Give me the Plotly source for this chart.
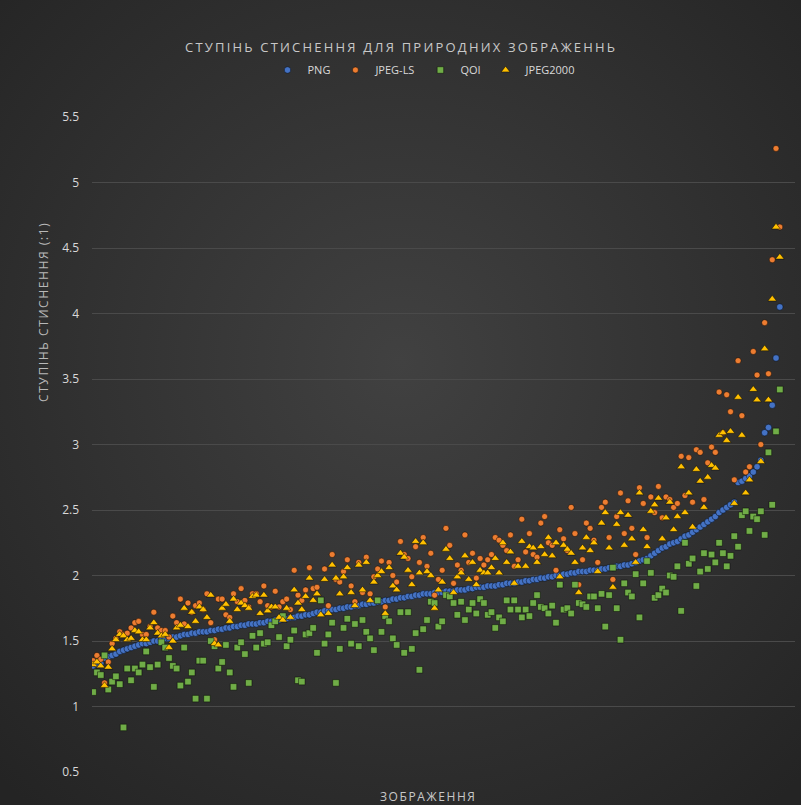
import base64
import plotly.graph_objects as go

# ---------------- data ----------------
png = [
    1.31, 1.32, 1.33, 1.37, 1.38, 1.39, 1.40, 1.42, 1.43, 1.44,
    1.45, 1.46, 1.47, 1.48, 1.48, 1.49, 1.50, 1.50, 1.51, 1.52,
    1.52, 1.53, 1.53, 1.54, 1.55, 1.55, 1.56, 1.56, 1.57, 1.57,
    1.57, 1.58, 1.58, 1.59, 1.59, 1.60, 1.60, 1.61, 1.61, 1.62,
    1.62, 1.63, 1.63, 1.63, 1.64, 1.64, 1.65, 1.65, 1.66, 1.66,
    1.67, 1.67, 1.68, 1.68, 1.69, 1.69, 1.70, 1.70, 1.71, 1.72,
    1.72, 1.73, 1.73, 1.74, 1.74, 1.75, 1.75, 1.76, 1.76, 1.77,
    1.77, 1.78, 1.78, 1.79, 1.79, 1.80, 1.80, 1.81, 1.81, 1.82,
    1.82, 1.83, 1.83, 1.84, 1.84, 1.85, 1.85, 1.86, 1.86, 1.86,
    1.87, 1.87, 1.87, 1.88, 1.88, 1.88, 1.89, 1.89, 1.89, 1.90,
    1.90, 1.91, 1.91, 1.91, 1.92, 1.92, 1.92, 1.93, 1.93, 1.94,
    1.94, 1.94, 1.95, 1.95, 1.96, 1.96, 1.97, 1.97, 1.98, 1.98,
    1.99, 1.99, 2.00, 2.00, 2.01, 2.01, 2.02, 2.02, 2.03, 2.03,
    2.03, 2.04, 2.04, 2.04, 2.05, 2.05, 2.06, 2.06, 2.07, 2.07,
    2.08, 2.08, 2.09, 2.10, 2.11, 2.12, 2.13, 2.15, 2.17, 2.19,
    2.21, 2.22, 2.24, 2.25, 2.26, 2.28, 2.30, 2.31, 2.33, 2.35,
    2.37, 2.39, 2.41, 2.43, 2.45, 2.48, 2.50, 2.52, 2.54, 2.56,
    2.71, 2.72, 2.74, 2.76, 2.79, 2.83, 2.88, 3.09, 3.13, 3.30,
    3.66, 4.05,
]

jpeg_ls = [
    1.35, 1.39, 1.36, 1.18, 1.34, 1.48, 1.52, 1.57, 1.55, 1.56,
    1.60, 1.64, 1.65, 1.55, 1.55, 1.61, 1.72, 1.60, 1.58, 1.58,
    1.53, 1.69, 1.64, 1.82, 1.63, 1.79, 1.72, 1.77, 1.79, 1.74,
    1.86, 1.64, 1.51, 1.82, 1.82, 1.70, 1.68, 1.86,
    1.80, 1.90, 1.81, 1.76, 1.86, 1.86, 1.80, 1.92, 1.77, 1.76,
    1.88, 1.76, 1.80, 1.82, 1.74, 2.04, 1.85, 1.81, 1.89, 2.06,
    1.90, 1.91, 1.81, 2.05, 1.77, 2.16, 1.97, 1.95, 2.03, 2.12,
    1.92, 1.80, 2.10, 1.87, 2.14, 1.86, 1.99, 2.05, 2.11, 1.76,
    2.10, 2.00, 1.95, 2.26, 2.16, 2.13,
    1.99, 2.22, 2.10, 2.29, 2.07, 2.17, 1.85, 1.97, 2.04, 2.36,
    2.23, 1.94, 2.08, 2.04, 2.31, 2.10, 2.17, 1.98, 2.13, 2.08,
    2.12, 2.16, 2.29, 2.27, 2.23, 2.19, 2.31, 2.07, 2.12, 2.43,
    2.18, 2.32, 2.16, 2.14, 2.40, 2.45, 2.25, 2.23, 2.04, 2.35,
    2.28, 2.19, 2.52, 2.32,
    1.93, 2.12, 2.40, 2.36, 2.27, 2.10, 2.52, 2.56, 2.29, 1.97,
    2.45, 2.63, 2.32, 2.57, 2.36, 2.16, 2.67, 2.55, 2.29, 2.60,
    2.48, 2.68, 2.44, 2.60, 2.58, 2.52, 2.55, 2.91, 2.61, 2.90,
    2.56, 2.96, 2.94, 2.58, 2.86, 2.98, 2.94, 3.40, 3.09, 3.38,
    3.25, 2.73, 3.64, 3.22, 2.79, 2.83, 3.71, 3.53, 3.00, 3.93,
    3.54, 4.41, 5.26, 4.66,
]

qoi = [
    1.11, 1.26, 1.24, 1.39, 1.13, 1.19, 1.23, 1.17, 0.84, 1.29,
    1.20, 1.29, 1.26, 1.32, 1.42, 1.30, 1.15, 1.32, 1.49, 1.45,
    1.37, 1.31, 1.29, 1.16, 1.45, 1.19, 1.26, 1.06, 1.35, 1.35,
    1.06, 1.50, 1.46, 1.29, 1.34, 1.47, 1.26,
    1.15, 1.45, 1.49, 1.40, 1.18, 1.54, 1.45, 1.56, 1.48, 1.49,
    1.62, 1.65, 1.53, 1.69, 1.46, 1.51, 1.58, 1.20, 1.19, 1.55,
    1.56, 1.60, 1.41, 1.81, 1.48, 1.55, 1.64, 1.18, 1.44, 1.60,
    1.67, 1.48, 1.63, 1.46, 1.66, 1.57, 1.52, 1.43, 1.81, 1.57,
    1.69, 1.65, 1.52, 1.47, 1.72, 1.41,
    1.72, 1.44, 1.56, 1.28, 1.59, 1.66, 1.80, 1.79, 1.61, 1.65,
    1.85, 1.84, 1.79, 1.70, 1.80, 1.66, 1.74, 1.79, 1.71, 1.82,
    1.79, 1.70, 1.72, 1.60, 1.68, 1.65, 1.81, 1.74, 1.81, 1.74,
    1.68, 1.74, 1.69, 1.79, 1.85, 1.76, 1.75, 1.71, 1.77, 1.64,
    1.93, 1.74, 1.75, 1.71, 1.93, 1.79,
    1.78, 1.76, 1.84, 1.84, 1.75, 1.86, 1.61, 1.85, 2.06, 1.75,
    1.51, 1.94, 1.87, 1.84, 2.01, 1.68, 1.94, 2.11, 2.02, 1.83,
    1.85, 1.90, 1.87, 2.00, 1.99, 2.07, 1.73, 2.25, 2.09, 2.13,
    1.92, 2.03, 2.17, 2.05, 2.16, 2.10, 2.25, 2.17, 2.07, 2.15,
    2.30, 2.22, 2.46, 2.49, 2.34, 2.45, 2.43, 2.49, 2.31, 2.94,
    2.54, 3.10, 3.42,
]

jpeg2000 = [
    1.32, 1.34, 1.31, 1.16, 1.30, 1.44, 1.51, 1.55, 1.54, 1.51,
    1.52, 1.58, 1.57, 1.51, 1.51, 1.60, 1.64, 1.56, 1.54, 1.55,
    1.45, 1.50, 1.60, 1.62, 1.75, 1.61, 1.72, 1.65, 1.76, 1.74,
    1.68, 1.85, 1.48, 1.47, 1.75, 1.78, 1.65, 1.82,
    1.74, 1.79, 1.77, 1.75, 1.84, 1.85, 1.71, 1.85, 1.73, 1.76,
    1.76, 1.68, 1.66, 1.75, 1.68, 1.89, 1.79, 1.74, 1.84, 1.98,
    1.81, 1.86, 1.70, 1.97, 1.71, 2.08, 1.98, 1.86, 1.99, 2.06,
    1.87, 1.77, 2.08, 1.89, 2.10, 1.81, 1.95, 2.00, 2.03, 1.71,
    2.06, 1.92, 1.89, 2.17, 2.14, 2.04,
    1.93, 2.26, 2.02, 2.25, 2.03, 2.00, 1.75, 1.89, 1.95, 2.20,
    2.13, 1.87, 1.99, 2.02, 2.15, 1.97, 2.10, 1.93, 2.04, 2.02,
    2.02, 2.06, 2.13, 2.02, 2.25, 2.10, 2.18, 1.94, 2.07, 2.26,
    2.07, 2.22, 2.21, 2.10, 2.22, 2.16, 2.29, 2.15, 2.25, 1.99,
    2.23, 2.20, 2.17, 2.10,
    1.87, 2.21, 2.29, 2.19, 2.25, 2.03, 2.40, 2.48, 2.21, 1.91,
    2.39, 2.48, 2.23, 2.46, 2.28, 2.10, 2.63, 2.35, 2.22, 2.49,
    2.54, 2.59, 2.28, 2.44, 2.56, 2.35, 2.45, 2.83, 2.48, 2.63,
    2.37, 2.81, 2.72, 2.52, 2.75, 2.84, 2.82, 3.07, 3.09, 3.03,
    3.10, 2.55, 3.36, 3.07, 2.63, 2.73, 3.42, 3.34, 2.87, 3.73,
    3.34, 4.11, 4.66, 4.43,
]

N = len(png)
for arr in (jpeg_ls, qoi, jpeg2000):
    assert len(arr) == N, len(arr)
images = list(range(1, N + 1))

y_ticks = [0.5, 1, 1.5, 2, 2.5, 3, 3.5, 4, 4.5, 5, 5.5]
y_tick_labels = ["0.5", "1", "1.5", "2", "2.5", "3", "3.5", "4", "4.5", "5", "5.5"]

title_text = "СТУПІНЬ СТИСНЕННЯ ДЛЯ ПРИРОДНИХ ЗОБРАЖЕННЬ"
y_title = "СТУПІНЬ СТИСНЕННЯ (:1)"
x_title = "ЗОБРАЖЕННЯ"

# ---------------- figure ----------------
FONT = "Open Sans, DejaVu Sans, sans-serif"
outline = dict(color="rgba(0,0,0,0.45)", width=1)

fig = go.Figure()
fig.add_trace(go.Scatter(x=images, y=png, mode="markers", name="PNG",
                         marker=dict(symbol="circle", size=6.5, color="#4472C4", line=outline)))
fig.add_trace(go.Scatter(x=images, y=jpeg_ls, mode="markers", name="JPEG-LS",
                         marker=dict(symbol="circle", size=6, color="#ED7D31", line=outline)))
fig.add_trace(go.Scatter(x=images, y=qoi, mode="markers", name="QOI",
                         marker=dict(symbol="square", size=6.5, color="#70AD47", line=outline)))
fig.add_trace(go.Scatter(x=images, y=jpeg2000, mode="markers", name="JPEG2000",
                         marker=dict(symbol="triangle-up", size=7.5, color="#FFC000", line=outline)))

# background vignette
svg = ('<svg xmlns="http://www.w3.org/2000/svg" width="801" height="805">'
       '<defs><radialGradient id="g" cx="50%" cy="45%" r="72%">'
       '<stop offset="0" stop-color="#414141"/><stop offset="1" stop-color="#242424"/>'
       '</radialGradient></defs><rect width="801" height="805" fill="url(#g)"/></svg>')
bg_src = "data:image/svg+xml;base64," + base64.b64encode(svg.encode()).decode()

L, R, T, B = 92, 6, 117, 33
W, H = 801, 805
pw, ph = W - L - R, H - T - B

def px(xp):
    return (xp - L) / pw

def py(yp):
    return (H - B - yp) / ph

fig.update_layout(
    width=W, height=H,
    margin=dict(l=L, r=R, t=T, b=B),
    paper_bgcolor="#303030",
    plot_bgcolor="rgba(0,0,0,0)",
    font=dict(family=FONT, color="#d9d9d9", size=12),
    showlegend=True,
    legend=dict(orientation="h", x=px(424), y=py(70), xanchor="center", yanchor="middle",
                font=dict(size=11, color="#d9d9d9"), itemwidth=30,
                bgcolor="rgba(0,0,0,0)", tracegroupgap=0),
    images=[dict(source=bg_src, xref="paper", yref="paper", x=px(0), y=py(0),
                 sizex=W / pw, sizey=H / ph, sizing="stretch", layer="below",
                 xanchor="left", yanchor="top")],
    annotations=[
        dict(text='<span style="letter-spacing:2.2px">' + title_text + '</span>',
             xref="paper", yref="paper", x=px(401), y=py(47), showarrow=False,
             xanchor="center", yanchor="middle",
             font=dict(size=13, color="#c8c8c8", family=FONT)),
        dict(text='<span style="letter-spacing:1.6px">' + y_title + '</span>',
             xref="paper", yref="paper", x=px(43), y=py(312), showarrow=False,
             textangle=-90, xanchor="center", yanchor="middle",
             font=dict(size=12, color="#b8b8b8", family=FONT)),
        dict(text='<span style="letter-spacing:1.6px">' + x_title + '</span>',
             xref="paper", yref="paper", x=px(428), y=py(796), showarrow=False,
             xanchor="center", yanchor="middle",
             font=dict(size=12, color="#c8c8c8", family=FONT)),
    ],
)
fig.update_xaxes(range=[0.7, N + 4], showgrid=False, zeroline=False,
                 showticklabels=False, ticks="", showline=False)
fig.update_yaxes(range=[0.5, 5.5], tickvals=y_ticks, ticktext=y_tick_labels,
                 showgrid=True, gridcolor="#4a4a4a", gridwidth=1, zeroline=False,
                 showline=False, ticks="", ticklabelstandoff=12,
                 tickfont=dict(size=12, color="#d9d9d9", family=FONT))

fig.write_html(
    "out.html",
    config={"displayModeBar": False},
    post_script="document.body.style.margin='0';document.body.style.overflow='hidden';"
                "document.body.style.background='#242424';",
)
